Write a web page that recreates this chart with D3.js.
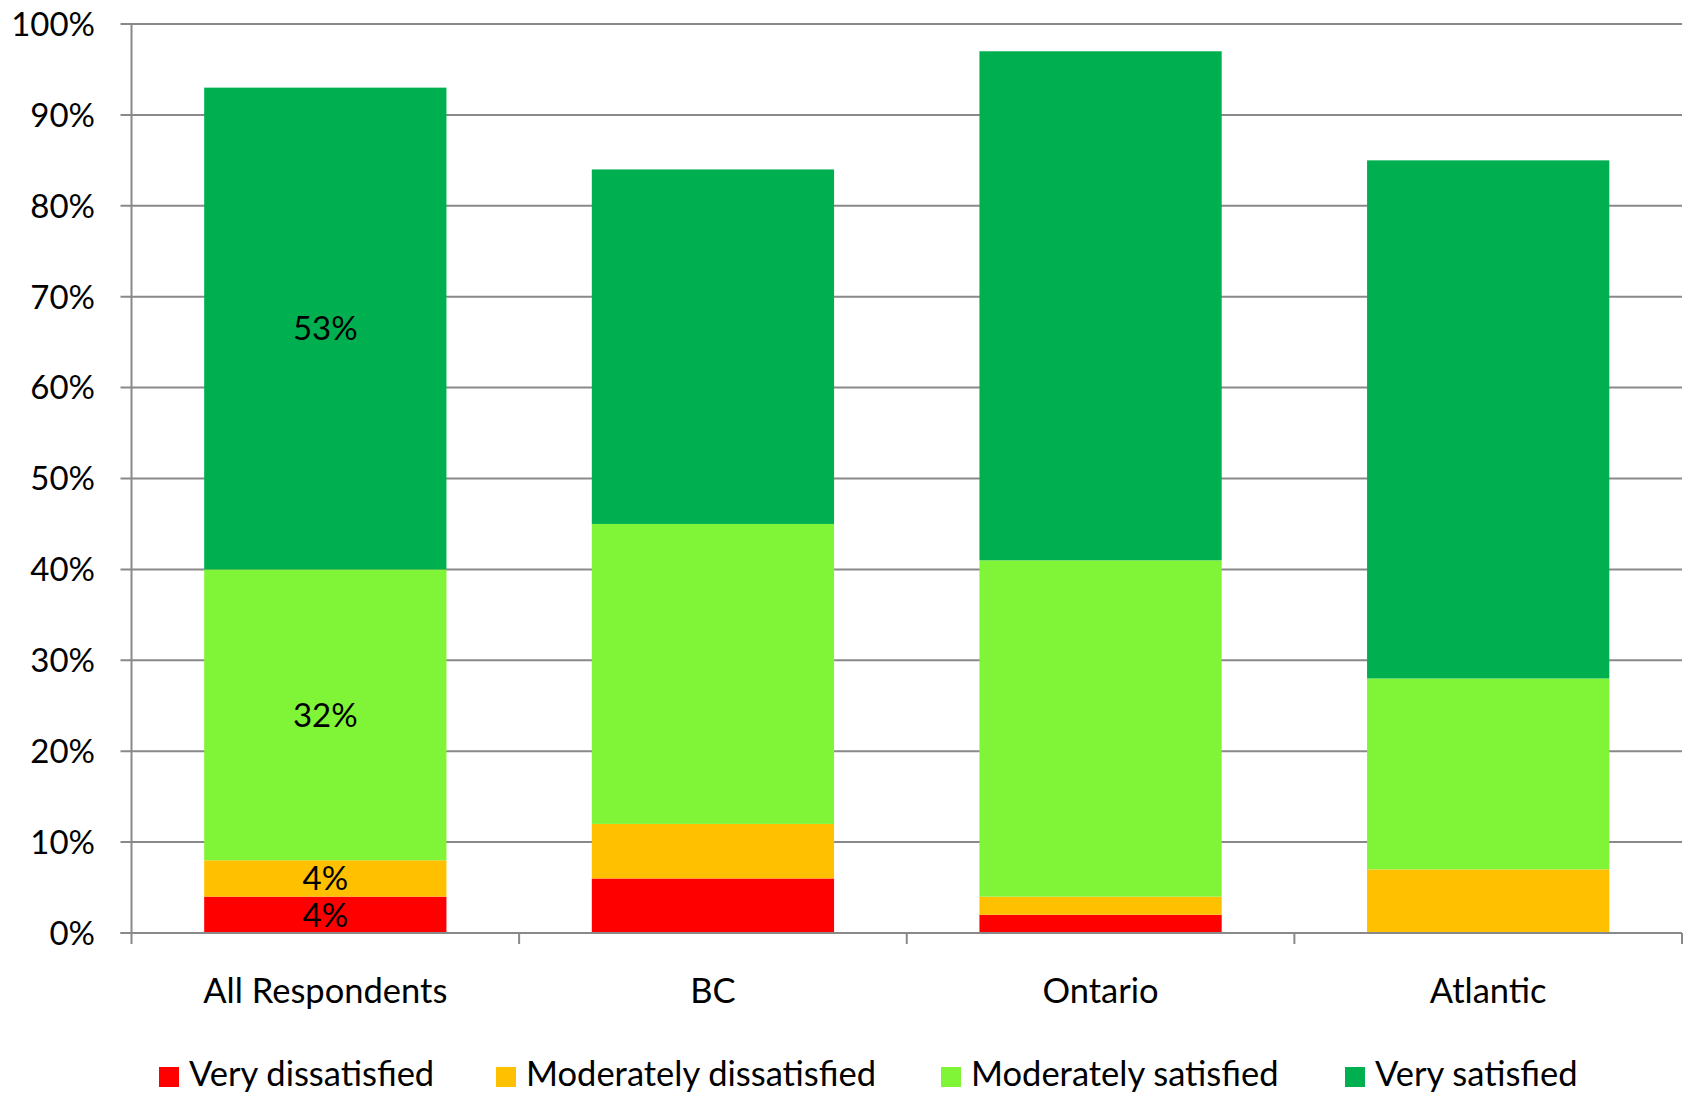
<!DOCTYPE html>
<html><head><meta charset="utf-8">
<script src="https://cdn.jsdelivr.net/npm/d3@7"></script>
<style>html,body{margin:0;padding:0;background:#fff;} svg{display:block;font-family:Lato, "Open Sans", sans-serif;}</style>
</head><body>
<svg id="chart" width="1687" height="1093"></svg>
<script>
const categories = ["All Respondents", "BC", "Ontario", "Atlantic"];
const seriesNames = ["Very dissatisfied", "Moderately dissatisfied", "Moderately satisfied", "Very satisfied"];
const veryDissatisfied = [4, 6, 2, 0];
const moderatelyDissatisfied = [4, 6, 2, 7];
const moderatelySatisfied = [32, 33, 37, 21];
const verySatisfied = [53, 39, 56, 57];
const yTicks = [0, 10, 20, 30, 40, 50, 60, 70, 80, 90, 100];
const labelledCategory = "All Respondents";
const colors = ["#FF0000", "#FFC000", "#80F537", "#00B050"];

(function () {
const seriesValues = [veryDissatisfied, moderatelyDissatisfied, moderatelySatisfied, verySatisfied];
const rows = categories.map((c, i) => {
  const r = {category: c};
  seriesNames.forEach((s, j) => r[s] = seriesValues[j][i]);
  return r;
});
const stacked = d3.stack().keys(seriesNames)(rows);

const svg = d3.select("#chart");
const mLeft = 131.5, mRight = 1682, mTop = 24, mBottom = 933;
const x = d3.scaleBand().domain(categories).range([mLeft, mRight]).paddingInner(0.375).paddingOuter(0.1875);
const y = d3.scaleLinear().domain([0, 100]).range([mBottom, mTop]);
const numSize = 33, textSize = 34.5;

svg.append("g").selectAll("line").data(yTicks).join("line")
  .attr("x1", mLeft - 11).attr("x2", mRight)
  .attr("y1", d => y(d)).attr("y2", d => y(d))
  .attr("stroke", "#898989").attr("stroke-width", 2);

svg.append("line").attr("x1", mLeft).attr("x2", mLeft).attr("y1", mTop).attr("y2", mBottom + 11)
  .attr("stroke", "#898989").attr("stroke-width", 2);

const bandEdges = categories.map(c => x(c) - x.step() * x.paddingInner() / 2 + x.step());
svg.append("g").selectAll("line").data(bandEdges).join("line")
  .attr("x1", d => d).attr("x2", d => d).attr("y1", mBottom).attr("y2", mBottom + 11)
  .attr("stroke", "#898989").attr("stroke-width", 2);

svg.append("g").selectAll("g").data(stacked).join("g")
  .attr("fill", (d, i) => colors[i])
  .selectAll("rect").data(d => d).join("rect")
  .attr("x", d => x(d.data.category))
  .attr("width", x.bandwidth())
  .attr("y", d => y(d[1]))
  .attr("height", d => y(d[0]) - y(d[1]));

svg.append("line").attr("x1", mLeft - 11).attr("x2", mRight).attr("y1", y(0)).attr("y2", y(0))
  .attr("stroke", "#898989").attr("stroke-width", 2);

const labelData = [];
stacked.forEach(s => s.forEach(d => { if (d.data.category === labelledCategory) labelData.push(d); }));
svg.append("g").selectAll("text").data(labelData).join("text")
  .attr("x", d => x(d.data.category) + x.bandwidth() / 2)
  .attr("y", d => y((d[0] + d[1]) / 2))
  .attr("dy", "0.36em")
  .attr("text-anchor", "middle")
  .attr("font-size", numSize).attr("fill", "#000")
  .text(d => Math.round(d[1] - d[0]) + "%");

svg.append("g").selectAll("text").data(yTicks).join("text")
  .attr("x", 95).attr("y", d => y(d)).attr("dy", "0.36em")
  .attr("text-anchor", "end").attr("font-size", numSize).attr("fill", "#000")
  .text(d => d + "%");

svg.append("g").selectAll("text").data(categories).join("text")
  .attr("x", d => x(d) + x.bandwidth() / 2).attr("y", 991).attr("dy", "0.36em")
  .attr("text-anchor", "middle").attr("font-size", textSize).attr("fill", "#000")
  .text(d => d);

const legendX = [159, 496, 941, 1345];
const lg = svg.append("g").selectAll("g").data(seriesNames).join("g")
  .attr("transform", (d, i) => `translate(${legendX[i]},1067)`);
lg.append("rect").attr("width", 20).attr("height", 20).attr("fill", (d, i) => colors[i]);
lg.append("text").attr("x", 30).attr("y", 19)
  .attr("font-size", textSize).attr("fill", "#000").text(d => d);
})();
</script>
</body></html>
